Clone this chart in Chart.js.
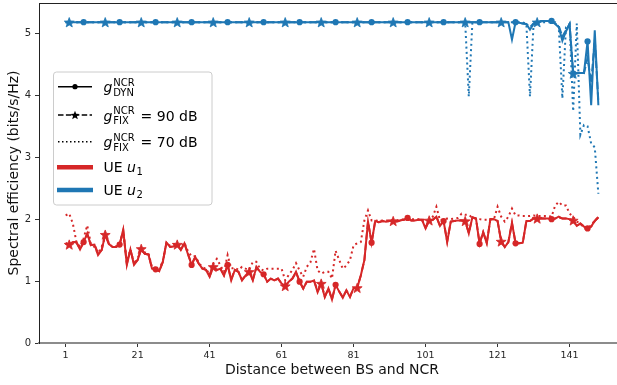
<!DOCTYPE html>
<html>
<head>
<meta charset="utf-8">
<script src="https://cdn.jsdelivr.net/npm/chart.js@4.4.1/dist/chart.umd.min.js"></script>
<style>
  html, body { margin: 0; padding: 0; background: #fff; overflow: hidden; }
  #wrap { width: 640px; height: 385px; }
</style>
</head>
<body>
<div id="wrap"><canvas id="chart" width="640" height="385"></canvas></div>
<script>
// x ticks and y ticks
const xTicks = [1, 21, 41, 61, 81, 101, 121, 141];
const yTicks = [0, 1, 2, 3, 4, 5];

// UE u1 (red)
const redDyn = [
  1.61, 1.59, 1.63, 1.63, 1.51, 1.63, 1.77, 1.58, 1.59, 1.42,
  1.50, 1.75, 1.60, 1.55, 1.55, 1.59, 1.83, 1.26, 1.51, 1.26,
  1.34, 1.52, 1.44, 1.43, 1.20, 1.19, 1.16, 1.31, 1.62, 1.55,
  1.56, 1.59, 1.50, 1.61, 1.43, 1.26, 1.39, 1.28, 1.20, 1.18,
  1.07, 1.23, 1.18, 1.20, 1.09, 1.26, 1.01, 1.18, 1.15, 1.01,
  1.09, 1.15, 1.01, 1.23, 1.15, 1.11, 0.99, 1.04, 1.01, 1.04,
  0.96, 0.92, 0.99, 1.04, 1.15, 0.99, 0.88, 0.99, 0.99, 1.01,
  0.82, 0.96, 0.74, 0.88, 0.70, 0.94, 0.83, 0.73, 0.85, 0.74,
  0.89, 0.89, 1.09, 1.34, 1.96, 1.62, 1.97, 1.95, 1.97, 1.96,
  1.97, 1.97, 1.96, 1.98, 1.99, 2.02, 1.98, 1.98, 1.99, 1.99,
  1.85, 1.98, 1.99, 2.04, 1.89, 1.97, 1.63, 1.96, 1.97, 1.98,
  1.98, 1.97, 1.77, 2.03, 2.01, 1.60, 1.79, 1.61, 2.00, 2.00,
  1.97, 1.64, 1.55, 1.63, 1.94, 1.61, 1.61, 1.62, 1.97, 1.97,
  2.01, 2.01, 2.01, 2.01, 2.01, 2.00, 2.01, 2.04, 2.01, 2.01,
  2.00, 1.98, 1.89, 1.93, 1.88, 1.85, 1.88, 1.97, 2.03
];
const redFix90 = [
  1.61, 1.59, 1.63, 1.62, 1.52, 1.63, 1.76, 1.58, 1.59, 1.45,
  1.50, 1.75, 1.60, 1.55, 1.55, 1.59, 1.82, 1.28, 1.51, 1.28,
  1.34, 1.52, 1.44, 1.43, 1.21, 1.19, 1.16, 1.31, 1.62, 1.55,
  1.56, 1.59, 1.51, 1.61, 1.44, 1.27, 1.39, 1.28, 1.20, 1.18,
  1.08, 1.23, 1.18, 1.20, 1.09, 1.26, 1.03, 1.18, 1.15, 1.02,
  1.09, 1.15, 1.02, 1.22, 1.15, 1.11, 0.99, 1.04, 1.01, 1.04,
  0.96, 0.92, 0.99, 1.04, 1.14, 0.99, 0.88, 0.99, 0.99, 1.01,
  0.84, 0.96, 0.75, 0.88, 0.71, 0.94, 0.83, 0.74, 0.85, 0.75,
  0.89, 0.89, 1.09, 1.34, 1.96, 1.62, 1.97, 1.95, 1.97, 1.96,
  1.97, 1.97, 1.96, 1.98, 1.99, 2.02, 1.98, 1.98, 1.99, 1.99,
  1.86, 1.98, 1.99, 2.04, 1.89, 1.97, 1.64, 1.96, 1.97, 1.98,
  1.98, 1.97, 1.78, 2.03, 2.01, 1.61, 1.79, 1.62, 2.00, 2.00,
  1.97, 1.64, 1.55, 1.63, 1.94, 1.61, 1.61, 1.62, 1.97, 1.97,
  2.01, 2.01, 2.01, 2.01, 2.01, 2.00, 2.01, 2.03, 2.01, 2.01,
  2.00, 1.98, 1.89, 1.93, 1.88, 1.86, 1.88, 1.97, 2.03
];
const redFix70 = [
  2.06, 2.09, 1.93, 1.63, 1.55, 1.69, 1.90, 1.60, 1.55, 1.45,
  1.55, 1.72, 1.62, 1.55, 1.56, 1.60, 1.80, 1.30, 1.51, 1.28,
  1.36, 1.54, 1.46, 1.45, 1.22, 1.21, 1.18, 1.33, 1.62, 1.57,
  1.60, 1.60, 1.55, 1.62, 1.48, 1.40, 1.40, 1.30, 1.22, 1.20,
  1.10, 1.28, 1.36, 1.25, 1.15, 1.42, 1.20, 1.22, 1.18, 1.23,
  1.20, 1.18, 1.31, 1.31, 1.20, 1.17, 1.20, 1.20, 1.20, 1.20,
  1.20, 1.01, 1.10, 1.18, 1.29, 1.17, 1.07, 1.23, 1.30, 1.52,
  1.17, 1.12, 1.15, 1.15, 1.04, 1.49, 1.34, 1.20, 1.25, 1.34,
  1.58, 1.61, 1.63, 1.98, 2.14, 1.98, 1.98, 1.97, 1.98, 1.98,
  1.98, 1.99, 1.98, 1.99, 2.00, 2.02, 2.00, 2.00, 2.00, 2.00,
  1.98, 1.99, 2.04, 2.20, 1.98, 2.00, 2.01, 2.00, 2.01, 2.02,
  2.09, 2.07, 2.07, 2.02, 2.01, 2.00, 1.99, 1.99, 2.00, 2.00,
  2.20, 2.04, 1.96, 2.04, 2.17, 2.06, 2.06, 2.05, 2.05, 2.05,
  2.06, 2.05, 2.05, 2.05, 2.05, 2.04, 2.22, 2.28, 2.22, 2.22,
  2.09, 2.04, 1.96, 1.93, 1.85, 1.85, 1.90, 1.98, 2.03
];

// UE u2 (blue)
const blueDyn = [
  5.18, 5.18, 5.18, 5.18, 5.18, 5.18, 5.18, 5.18, 5.18, 5.18,
  5.18, 5.18, 5.18, 5.18, 5.18, 5.18, 5.18, 5.18, 5.18, 5.18,
  5.18, 5.18, 5.18, 5.18, 5.18, 5.18, 5.18, 5.18, 5.18, 5.18,
  5.18, 5.18, 5.18, 5.18, 5.18, 5.18, 5.18, 5.18, 5.18, 5.18,
  5.18, 5.18, 5.18, 5.18, 5.18, 5.18, 5.18, 5.18, 5.18, 5.18,
  5.18, 5.18, 5.18, 5.18, 5.18, 5.18, 5.18, 5.18, 5.18, 5.18,
  5.18, 5.18, 5.18, 5.18, 5.18, 5.18, 5.18, 5.18, 5.18, 5.18,
  5.18, 5.18, 5.18, 5.18, 5.18, 5.18, 5.18, 5.18, 5.18, 5.18,
  5.18, 5.18, 5.18, 5.18, 5.18, 5.18, 5.18, 5.18, 5.18, 5.18,
  5.18, 5.18, 5.18, 5.18, 5.18, 5.18, 5.18, 5.18, 5.18, 5.18,
  5.18, 5.18, 5.18, 5.18, 5.18, 5.18, 5.18, 5.18, 5.18, 5.18,
  5.18, 5.18, 5.18, 5.18, 5.18, 5.18, 5.18, 5.18, 5.18, 5.18,
  5.18, 5.18, 5.18, 5.18, 4.90, 5.18, 5.17, 5.16, 5.15, 5.06,
  5.15, 5.17, 5.20, 5.20, 5.20, 5.20, 5.15, 5.10, 4.88, 5.03,
  5.15, 4.35, 4.36, 4.36, 4.36, 4.87, 3.84, 5.05, 3.84
];
const blueFix90 = [
  5.18, 5.18, 5.18, 5.18, 5.18, 5.18, 5.18, 5.18, 5.18, 5.18,
  5.18, 5.18, 5.18, 5.18, 5.18, 5.18, 5.18, 5.18, 5.18, 5.18,
  5.18, 5.18, 5.18, 5.18, 5.18, 5.18, 5.18, 5.18, 5.18, 5.18,
  5.18, 5.18, 5.18, 5.18, 5.18, 5.18, 5.18, 5.18, 5.18, 5.18,
  5.18, 5.18, 5.18, 5.18, 5.18, 5.18, 5.18, 5.18, 5.18, 5.18,
  5.18, 5.18, 5.18, 5.18, 5.18, 5.18, 5.18, 5.18, 5.18, 5.18,
  5.18, 5.18, 5.18, 5.18, 5.18, 5.18, 5.18, 5.18, 5.18, 5.18,
  5.18, 5.18, 5.18, 5.18, 5.18, 5.18, 5.18, 5.18, 5.18, 5.18,
  5.18, 5.18, 5.18, 5.18, 5.18, 5.18, 5.18, 5.18, 5.18, 5.18,
  5.18, 5.18, 5.18, 5.18, 5.18, 5.18, 5.18, 5.18, 5.18, 5.18,
  5.18, 5.18, 5.18, 5.18, 5.18, 5.18, 5.18, 5.18, 5.18, 5.18,
  5.18, 5.18, 5.18, 5.18, 5.18, 5.18, 5.18, 5.18, 5.18, 5.18,
  5.18, 5.18, 5.18, 5.18, 5.18, 5.18, 5.17, 5.16, 5.15, 5.10,
  5.16, 5.18, 5.19, 5.20, 5.20, 5.20, 5.16, 5.12, 4.95, 5.05,
  5.15, 4.35, 4.35, 4.37, 4.36, 4.60, 4.20, 4.90, 3.90
];
const blueFix70 = [
  5.18, 5.18, 5.18, 5.18, 5.18, 5.18, 5.18, 5.18, 5.18, 5.18,
  5.18, 5.18, 5.18, 5.18, 5.18, 5.18, 5.18, 5.18, 5.18, 5.18,
  5.18, 5.18, 5.18, 5.18, 5.18, 5.18, 5.18, 5.18, 5.18, 5.18,
  5.18, 5.18, 5.18, 5.18, 5.18, 5.18, 5.18, 5.18, 5.18, 5.18,
  5.18, 5.18, 5.18, 5.18, 5.18, 5.18, 5.18, 5.18, 5.18, 5.18,
  5.18, 5.18, 5.18, 5.18, 5.18, 5.18, 5.18, 5.18, 5.18, 5.18,
  5.18, 5.18, 5.18, 5.18, 5.18, 5.18, 5.18, 5.18, 5.18, 5.18,
  5.18, 5.18, 5.18, 5.18, 5.18, 5.18, 5.18, 5.18, 5.18, 5.18,
  5.18, 5.18, 5.18, 5.18, 5.18, 5.18, 5.18, 5.18, 5.18, 5.18,
  5.18, 5.18, 5.18, 5.18, 5.18, 5.18, 5.18, 5.18, 5.18, 5.18,
  5.18, 5.18, 5.18, 5.18, 5.18, 5.18, 5.18, 5.18, 5.18, 5.18,
  5.18, 5.18, 3.98, 5.18, 5.18, 5.18, 5.18, 5.18, 5.18, 5.18,
  5.18, 5.18, 5.18, 5.18, 5.18, 5.18, 5.18, 5.18, 5.15, 3.98,
  5.15, 5.18, 5.18, 5.18, 5.18, 5.18, 5.18, 5.10, 3.95, 5.10,
  5.15, 3.74, 5.16, 3.36, 3.52, 3.50, 3.22, 3.16, 2.41
];

const RED = '#d62728';
const BLUE = '#1f77b4';
const FONT = '"DejaVu Sans", sans-serif';

// distance index: 1 .. N
const distances = redDyn.map((v, i) => i + 1);

function toPoints(arr) {
  return arr.map((v, i) => ({ x: distances[i], y: v }));
}

// filled five point star, like matplotlib's '*' marker
function starPath(ctx, x, y, r) {
  ctx.beginPath();
  for (let k = 0; k < 10; k++) {
    const rr = k % 2 ? r * 0.42 : r;
    const a = -Math.PI / 2 + k * Math.PI / 5;
    ctx.lineTo(x + rr * Math.cos(a), y + r * 0.1 + rr * Math.sin(a));
  }
  ctx.closePath();
}

function dynSet(arr, color) {
  return {
    data: toPoints(arr),
    borderColor: color,
    backgroundColor: color,
    borderWidth: 2,
    pointStyle: 'circle',
    pointRadius: ctx => (ctx.dataIndex % 10 === 5 ? 3.1 : 0),
    pointBorderWidth: 0,
    pointHoverRadius: 0,
    tension: 0
  };
}
function fix90Set(arr, color) {
  return {
    data: toPoints(arr),
    borderColor: color,
    backgroundColor: color,
    borderWidth: 2,
    borderDash: [7.4, 3.2],
    starEvery: 10,
    pointRadius: 0,
    pointHoverRadius: 0,
    tension: 0
  };
}
function fix70Set(arr, color) {
  return {
    data: toPoints(arr),
    borderColor: color,
    borderWidth: 2,
    borderDash: [2, 3.3],
    pointRadius: 0,
    pointHoverRadius: 0,
    tension: 0
  };
}

// star markers on the 90 dB series, placed from the dataset's own points
const starPlugin = {
  id: 'stars',
  afterDatasetsDraw(chart) {
    const ctx = chart.ctx;
    ctx.save();
    chart.data.datasets.forEach((ds, di) => {
      if (!ds.starEvery) return;
      const meta = chart.getDatasetMeta(di);
      ctx.fillStyle = ds.borderColor;
      ctx.strokeStyle = ds.borderColor;
      ctx.lineWidth = 0.8;
      ctx.lineJoin = 'round';
      meta.data.forEach((pt, i) => {
        if (i % ds.starEvery !== 1) return;
        starPath(ctx, pt.x, pt.y, 5.2);
        ctx.fill();
        ctx.stroke();
      });
    });
    ctx.restore();
  }
};

// top spine + custom legend with sub/superscripts
const framePlugin = {
  id: 'frame',
  afterDraw(chart) {
    const ctx = chart.ctx;
    const a = chart.chartArea;
    ctx.save();
    ctx.strokeStyle = '#222';
    ctx.lineWidth = 1;
    ctx.beginPath();
    ctx.moveTo(a.left, a.top + 0.5);
    ctx.lineTo(a.right, a.top + 0.5);
    ctx.stroke();

    // legend box
    const bx = 53.5, by = 72, bw = 158.5, bh = 133, br = 3;
    ctx.beginPath();
    ctx.moveTo(bx + br, by);
    ctx.arcTo(bx + bw, by, bx + bw, by + bh, br);
    ctx.arcTo(bx + bw, by + bh, bx, by + bh, br);
    ctx.arcTo(bx, by + bh, bx, by, br);
    ctx.arcTo(bx, by, bx + bw, by, br);
    ctx.closePath();
    ctx.fillStyle = 'rgba(255,255,255,0.85)';
    ctx.fill();
    ctx.strokeStyle = '#cccccc';
    ctx.stroke();

    const x0 = 58, x1 = 92, tx = 103.5;
    const rows = [86.7, 115, 141.7, 167.3, 190];

    // sample lines
    ctx.strokeStyle = '#000';
    ctx.lineWidth = 1.6;
    ctx.setLineDash([]);
    ctx.beginPath(); ctx.moveTo(x0, rows[0]); ctx.lineTo(x1, rows[0]); ctx.stroke();
    ctx.fillStyle = '#000';
    ctx.beginPath(); ctx.arc((x0 + x1) / 2, rows[0], 2.6, 0, Math.PI * 2); ctx.fill();

    ctx.setLineDash([5.5, 2.4]);
    ctx.beginPath(); ctx.moveTo(x0, rows[1]); ctx.lineTo(x1, rows[1]); ctx.stroke();
    ctx.setLineDash([]);
    starPath(ctx, (x0 + x1) / 2, rows[1], 4.8);
    ctx.fill();

    ctx.setLineDash([1.5, 2.5]);
    ctx.beginPath(); ctx.moveTo(x0, rows[2]); ctx.lineTo(x1, rows[2]); ctx.stroke();
    ctx.setLineDash([]);

    ctx.lineWidth = 4.6;
    ctx.strokeStyle = RED;
    ctx.beginPath(); ctx.moveTo(x0 - 1, rows[3]); ctx.lineTo(x1 + 1, rows[3]); ctx.stroke();
    ctx.strokeStyle = BLUE;
    ctx.beginPath(); ctx.moveTo(x0 - 1, rows[4]); ctx.lineTo(x1 + 1, rows[4]); ctx.stroke();

    // labels
    ctx.fillStyle = '#000';
    ctx.textBaseline = 'alphabetic';
    ctx.textAlign = 'left';
    const gLabel = (y, sub, rest) => {
      ctx.font = 'italic 14px ' + FONT;
      ctx.fillText('g', tx, y + 5.5);
      const gx = tx + ctx.measureText('g').width + 0.8;
      ctx.font = '10px ' + FONT;
      ctx.fillText('NCR', gx, y - 0.7);
      ctx.fillText(sub, gx, y + 9.3);
      const w = Math.max(ctx.measureText('NCR').width, ctx.measureText(sub).width);
      if (rest) {
        ctx.font = '14px ' + FONT;
        ctx.fillText(rest, gx + w + 6, y + 5.5);
      }
    };
    gLabel(rows[0], 'DYN', '');
    gLabel(rows[1], 'FIX', '= 90 dB');
    gLabel(rows[2], 'FIX', '= 70 dB');

    const ueLabel = (y, n) => {
      ctx.font = '14px ' + FONT;
      ctx.fillText('UE ', tx, y + 5);
      let ux = tx + ctx.measureText('UE ').width;
      ctx.font = 'italic 14px ' + FONT;
      ctx.fillText('u', ux, y + 5);
      ux += ctx.measureText('u').width + 0.5;
      ctx.font = '10px ' + FONT;
      ctx.fillText(n, ux, y + 8);
    };
    ueLabel(rows[3], '1');
    ueLabel(rows[4], '2');
    ctx.restore();
  }
};

new Chart(document.getElementById('chart'), {
  type: 'line',
  data: {
    datasets: [
      fix70Set(redFix70, RED),
      fix70Set(blueFix70, BLUE),
      fix90Set(redFix90, RED),
      fix90Set(blueFix90, BLUE),
      dynSet(redDyn, RED),
      dynSet(blueDyn, BLUE)
    ]
  },
  options: {
    responsive: false,
    devicePixelRatio: 1,
    animation: false,
    events: [],
    layout: { padding: { top: 3, right: 15, left: 0, bottom: 0 } },
    plugins: { legend: { display: false }, tooltip: { enabled: false } },
    scales: {
      x: {
        type: 'linear',
        min: -6.4,
        max: 156.4,
        afterBuildTicks: s => { s.ticks = xTicks.map(v => ({ value: v })); },
        afterFit: s => { s.height = 42; s.paddingLeft = 0; s.paddingRight = 0; },
        ticks: { font: { family: FONT, size: 9.5 }, color: '#262626', padding: 3, maxRotation: 0 },
        grid: { display: true, drawOnChartArea: false, drawTicks: true, tickLength: 4, color: '#333', lineWidth: 1 },
        border: { display: true, color: '#8c8c8c', width: 2 },
        title: {
          display: true, text: 'Distance between BS and NCR',
          font: { family: FONT, size: 14 }, color: '#111',
          padding: { top: 0, bottom: 6.5 }
        }
      },
      y: {
        type: 'linear',
        min: 0,
        max: 5.49,
        afterBuildTicks: s => { s.ticks = yTicks.map(v => ({ value: v })); },
        afterFit: s => { s.width = 39; s.paddingTop = 0; s.paddingBottom = 0; },
        ticks: { font: { family: FONT, size: 10 }, color: '#262626', padding: 4 },
        grid: { display: true, drawOnChartArea: false, drawTicks: true, tickLength: 4, color: '#333', lineWidth: 1 },
        border: { display: true, color: '#222', width: 1 },
        title: {
          display: true, text: 'Spectral efficiency (bits/s/Hz)',
          font: { family: FONT, size: 14 }, color: '#111',
          padding: { top: 5.5, bottom: 0 }
        }
      }
    }
  },
  plugins: [starPlugin, framePlugin]
});
</script>
</body>
</html>
